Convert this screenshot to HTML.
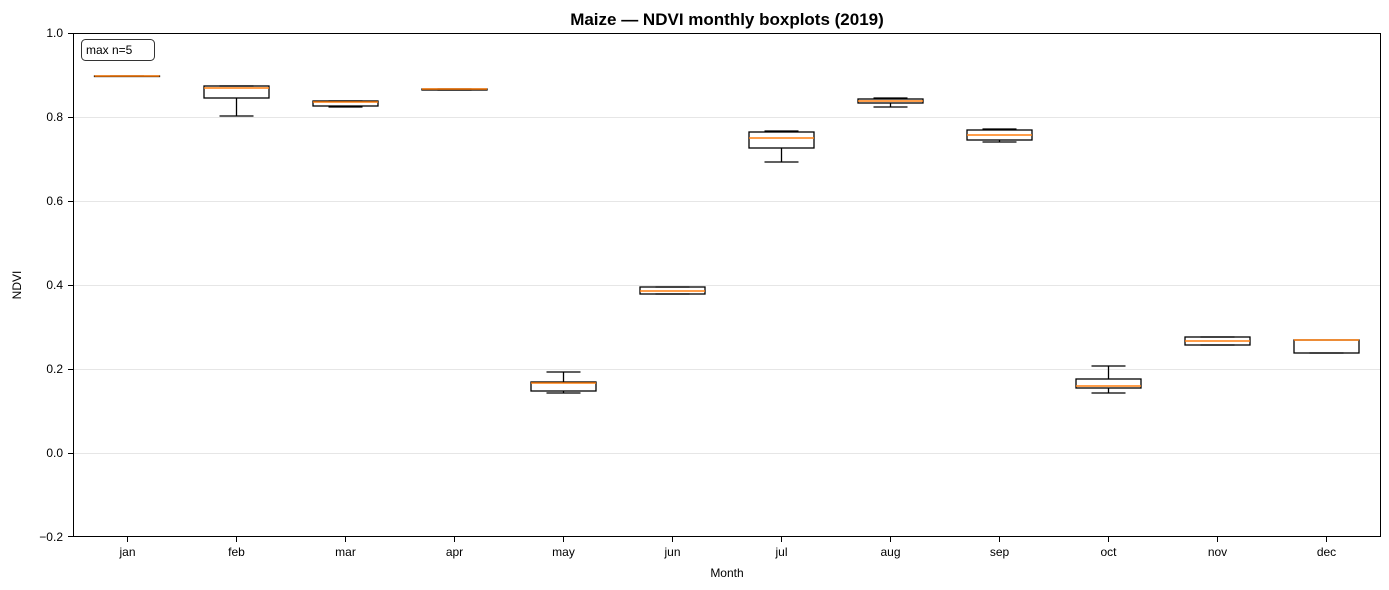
<!DOCTYPE html><html><head><meta charset="utf-8"><style>body{margin:0;background:#fff}svg{display:block;font-family:"Liberation Sans",sans-serif}</style></head><body>
<svg width="1389" height="590" xmlns="http://www.w3.org/2000/svg">
<text x="727" y="25" text-anchor="middle" font-size="17" font-weight="bold">Maize — NDVI monthly boxplots (2019)</text>
<g stroke="#e6e6e6" stroke-width="1">
<line x1="73" x2="1381" y1="117.5" y2="117.5"/><line x1="73" x2="1381" y1="201.5" y2="201.5"/><line x1="73" x2="1381" y1="285.5" y2="285.5"/><line x1="73" x2="1381" y1="369.5" y2="369.5"/><line x1="73" x2="1381" y1="453.5" y2="453.5"/>
</g>
<g stroke="#000" stroke-width="1.3" fill="none">
<!-- jan -->
<rect x="94.5" y="76" width="65" height="0.5"/><line x1="110" x2="144" y1="76" y2="76"/>
<!-- feb -->
<line x1="236.5" x2="236.5" y1="98" y2="116"/><line x1="219.5" x2="253.5" y1="86" y2="86"/><line x1="219.5" x2="253.5" y1="116" y2="116"/><rect x="204" y="86" width="65" height="12"/>
<!-- mar -->
<line x1="345.5" x2="345.5" y1="106" y2="107"/><line x1="328.5" x2="362.5" y1="101" y2="101"/><line x1="328.5" x2="362.5" y1="107" y2="107"/><rect x="313" y="101" width="65" height="5"/>
<!-- apr -->
<line x1="437.5" x2="471.5" y1="89" y2="89"/><line x1="437.5" x2="471.5" y1="90" y2="90"/><rect x="422" y="89" width="65" height="1"/>
<!-- may -->
<line x1="563.5" x2="563.5" y1="372" y2="382"/><line x1="563.5" x2="563.5" y1="391" y2="393"/><line x1="546.5" x2="580.5" y1="372" y2="372"/><line x1="546.5" x2="580.5" y1="393" y2="393"/><rect x="531" y="382" width="65" height="9"/>
<!-- jun -->
<rect x="640" y="287" width="65" height="7"/><line x1="655.5" x2="689.5" y1="287" y2="287"/><line x1="655.5" x2="689.5" y1="294" y2="294"/>
<!-- jul -->
<line x1="781.5" x2="781.5" y1="148" y2="162"/><line x1="764.5" x2="798.5" y1="131" y2="131"/><line x1="764.5" x2="798.5" y1="162" y2="162"/><rect x="749" y="132" width="65" height="16"/>
<!-- aug -->
<line x1="890.5" x2="890.5" y1="103" y2="107"/><line x1="873.5" x2="907.5" y1="98" y2="98"/><line x1="873.5" x2="907.5" y1="107" y2="107"/><rect x="858" y="99" width="65" height="4"/>
<!-- sep -->
<line x1="999.5" x2="999.5" y1="140" y2="142"/><line x1="982.5" x2="1016.5" y1="129" y2="129"/><line x1="982.5" x2="1016.5" y1="142" y2="142"/><rect x="967" y="130" width="65" height="10"/>
<!-- oct -->
<line x1="1108.5" x2="1108.5" y1="366" y2="379"/><line x1="1108.5" x2="1108.5" y1="388" y2="393"/><line x1="1091.5" x2="1125.5" y1="366" y2="366"/><line x1="1091.5" x2="1125.5" y1="393" y2="393"/><rect x="1076" y="379" width="65" height="9"/>
<!-- nov -->
<rect x="1185" y="337" width="65" height="8"/><line x1="1200.5" x2="1234.5" y1="337" y2="337"/><line x1="1200.5" x2="1234.5" y1="345" y2="345"/>
<!-- dec -->
<rect x="1294" y="340" width="65" height="13"/><line x1="1309.5" x2="1343.5" y1="353" y2="353"/>
</g>
<g stroke="#ff7f0e" stroke-width="1.5">
<line x1="94.5" x2="159.5" y1="76" y2="76"/>
<line x1="204" x2="269" y1="88" y2="88"/>
<line x1="313" x2="378" y1="102" y2="102"/>
<line x1="422" x2="487" y1="89" y2="89"/>
<line x1="531" x2="596" y1="383" y2="383"/>
<line x1="640" x2="705" y1="291" y2="291"/>
<line x1="749" x2="814" y1="138" y2="138"/>
<line x1="858" x2="923" y1="101" y2="101"/>
<line x1="967" x2="1032" y1="135" y2="135"/>
<line x1="1076" x2="1141" y1="386" y2="386"/>
<line x1="1185" x2="1250" y1="341" y2="341"/>
<line x1="1294" x2="1359" y1="340" y2="340"/>
</g>
<rect x="73.5" y="33.5" width="1307" height="503" fill="none" stroke="#000" stroke-width="1"/>
<g font-size="12" text-anchor="end" fill="#000">
<text x="63" y="37">1.0</text><text x="63" y="121">0.8</text><text x="63" y="205">0.6</text><text x="63" y="289">0.4</text><text x="63" y="373">0.2</text><text x="63" y="457">0.0</text><text x="63" y="541">−0.2</text>
</g>
<g stroke="#000"><line x1="68" x2="73" y1="33.5" y2="33.5"/><line x1="68" x2="73" y1="117.5" y2="117.5"/><line x1="68" x2="73" y1="201.5" y2="201.5"/><line x1="68" x2="73" y1="285.5" y2="285.5"/><line x1="68" x2="73" y1="369.5" y2="369.5"/><line x1="68" x2="73" y1="453.5" y2="453.5"/><line x1="68" x2="73" y1="536.5" y2="536.5"/>
<line x1="127.5" x2="127.5" y1="537" y2="542"/><line x1="236.5" x2="236.5" y1="537" y2="542"/><line x1="345.5" x2="345.5" y1="537" y2="542"/><line x1="454.5" x2="454.5" y1="537" y2="542"/><line x1="563.5" x2="563.5" y1="537" y2="542"/><line x1="672.5" x2="672.5" y1="537" y2="542"/><line x1="781.5" x2="781.5" y1="537" y2="542"/><line x1="890.5" x2="890.5" y1="537" y2="542"/><line x1="999.5" x2="999.5" y1="537" y2="542"/><line x1="1108.5" x2="1108.5" y1="537" y2="542"/><line x1="1217.5" x2="1217.5" y1="537" y2="542"/><line x1="1326.5" x2="1326.5" y1="537" y2="542"/></g>
<g font-size="12" text-anchor="middle">
<text x="127.5" y="556">jan</text><text x="236.5" y="556">feb</text><text x="345.5" y="556">mar</text><text x="454.5" y="556">apr</text><text x="563.5" y="556">may</text><text x="672.5" y="556">jun</text><text x="781.5" y="556">jul</text><text x="890.5" y="556">aug</text><text x="999.5" y="556">sep</text><text x="1108.5" y="556">oct</text><text x="1217.5" y="556">nov</text><text x="1326.5" y="556">dec</text>
</g>
<text x="727" y="577" text-anchor="middle" font-size="12">Month</text>
<text transform="translate(21,285) rotate(-90)" text-anchor="middle" font-size="12">NDVI</text>
<rect x="81.5" y="39.5" width="73" height="21" rx="4" fill="#fff" stroke="#333"/>
<text x="86" y="54" font-size="12">max n=5</text>
</svg></body></html>
